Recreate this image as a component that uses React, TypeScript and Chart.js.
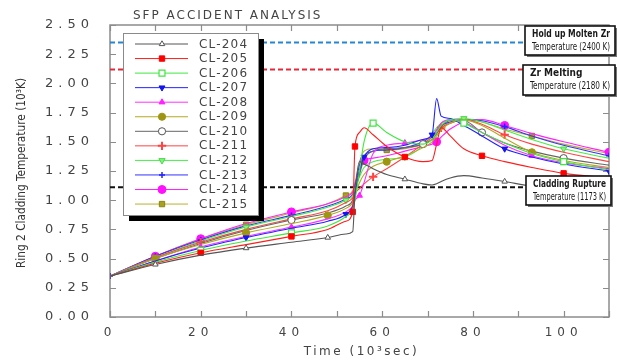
import React, { useEffect, useRef } from 'react';
import { Chart, registerables } from 'chart.js';
import { drawPoint } from 'chart.js/helpers';

Chart.register(...registerables);

// ---------------- DATA ----------------
const TIME = [0, 10, 20, 30, 40, 48, 52, 53.5, 54, 55, 56, 58, 61, 65, 69, 71, 72, 73, 75, 78, 82, 87, 93, 100, 110];

const SERIES_NAMES = ['CL-204', 'CL-205', 'CL-206', 'CL-207', 'CL-208', 'CL-209', 'CL-210', 'CL-211', 'CL-212', 'CL-213', 'CL-214', 'CL-215'];

const CL204 = [0.35, 0.45, 0.53, 0.59, 0.64, 0.68, 0.71, 0.73, 1.05, 1.33, 1.31, 1.27, 1.22, 1.18, 1.14, 1.13, 1.14, 1.16, 1.19, 1.21, 1.19, 1.16, 1.12, 1.10, 1.08];
const CL205 = [0.35, 0.46, 0.55, 0.62, 0.69, 0.75, 0.82, 0.90, 1.46, 1.58, 1.62, 1.56, 1.46, 1.37, 1.33, 1.34, 1.48, 1.62, 1.55, 1.44, 1.38, 1.33, 1.28, 1.23, 1.19];
const CL206 = [0.35, 0.47, 0.57, 0.65, 0.72, 0.78, 0.86, 0.92, 1.00, 1.25, 1.50, 1.66, 1.58, 1.50, 1.48, 1.52, 1.58, 1.64, 1.69, 1.66, 1.58, 1.49, 1.40, 1.33, 1.26];
const CL207 = [0.35, 0.48, 0.59, 0.68, 0.76, 0.82, 0.88, 0.95, 1.05, 1.25, 1.37, 1.44, 1.45, 1.47, 1.52, 1.56, 1.87, 1.72, 1.70, 1.64, 1.55, 1.44, 1.37, 1.31, 1.25];
const CL208 = [0.35, 0.48, 0.60, 0.69, 0.77, 0.84, 0.90, 0.95, 1.00, 1.04, 1.15, 1.40, 1.47, 1.49, 1.52, 1.55, 1.60, 1.66, 1.69, 1.67, 1.58, 1.47, 1.38, 1.32, 1.27];
const CL209 = [0.35, 0.50, 0.62, 0.72, 0.80, 0.87, 0.93, 0.98, 1.05, 1.15, 1.22, 1.29, 1.33, 1.38, 1.45, 1.50, 1.55, 1.60, 1.66, 1.69, 1.64, 1.53, 1.41, 1.34, 1.28];
const CL210 = [0.35, 0.50, 0.63, 0.74, 0.83, 0.89, 0.95, 1.00, 1.08, 1.22, 1.35, 1.42, 1.44, 1.45, 1.48, 1.52, 1.57, 1.63, 1.68, 1.68, 1.58, 1.49, 1.42, 1.36, 1.30];
const CL211 = [0.35, 0.51, 0.64, 0.75, 0.84, 0.91, 0.98, 1.02, 1.06, 1.10, 1.14, 1.20, 1.27, 1.37, 1.48, 1.54, 1.58, 1.62, 1.66, 1.69, 1.65, 1.56, 1.48, 1.41, 1.33];
const CL212 = [0.35, 0.51, 0.65, 0.77, 0.86, 0.94, 1.00, 1.04, 1.10, 1.20, 1.28, 1.33, 1.35, 1.37, 1.47, 1.57, 1.62, 1.66, 1.69, 1.70, 1.67, 1.60, 1.52, 1.44, 1.36];
const CL213 = [0.35, 0.52, 0.66, 0.78, 0.87, 0.95, 1.01, 1.05, 1.12, 1.30, 1.38, 1.42, 1.43, 1.45, 1.50, 1.55, 1.60, 1.64, 1.67, 1.69, 1.68, 1.63, 1.55, 1.47, 1.38];
const CL214 = [0.35, 0.52, 0.67, 0.80, 0.90, 0.97, 1.03, 1.07, 1.14, 1.25, 1.34, 1.36, 1.38, 1.42, 1.46, 1.48, 1.50, 1.54, 1.61, 1.67, 1.69, 1.64, 1.57, 1.50, 1.41];
const CL215 = [0.35, 0.52, 0.67, 0.79, 0.89, 0.97, 1.04, 1.08, 1.15, 1.32, 1.42, 1.44, 1.43, 1.44, 1.48, 1.52, 1.57, 1.62, 1.66, 1.69, 1.67, 1.61, 1.55, 1.48, 1.40];

// times at which a series shows its marker symbol
const MARKS204 = [10, 30, 48, 65, 87];
const MARKS205 = [20, 40, 53.5, 54, 65, 82, 100];
const MARKS206 = [20, 40, 58, 78, 100];
const MARKS207 = [30, 52, 56, 71, 87, 110];
const MARKS208 = [20, 40, 55, 65, 93];
const MARKS209 = [10, 30, 48, 61, 93];
const MARKS210 = [10, 40, 69, 82, 100];
const MARKS211 = [20, 40, 58, 73, 87];
const MARKS212 = [10, 30, 52, 65, 78, 100];
const MARKS213 = [0, 10, 20, 40, 87, 110];
const MARKS214 = [10, 20, 40, 56, 72, 87, 110];
const MARKS215 = [10, 30, 52, 61, 93];

// reference temperature levels (10^3 K as drawn) and the time where each dashed line stops
const REF_LEVELS = [2.35, 2.12, 1.11];
const REF_END = [91.5, 91.0, 91.7];
const REF_LABELS = [
  ['Hold up Molten Zr', 'Temperature (2400 K)'],
  ['Zr Melting', 'Temperature (2180 K)'],
  ['Cladding Rupture', 'Temperature (1173 K)'],
];

const X_MIN = 0;
const X_MAX = 110;
const Y_MIN = 0;
const Y_MAX = 2.5;

const TITLE = 'SFP ACCIDENT ANALYSIS';
const X_TITLE = 'Time (10³sec)';
const Y_TITLE = 'Ring 2 Cladding Temperature (10³K)';

// ---------------- STYLES ----------------
const VALUES = [CL204, CL205, CL206, CL207, CL208, CL209, CL210, CL211, CL212, CL213, CL214, CL215];
const MARKS = [MARKS204, MARKS205, MARKS206, MARKS207, MARKS208, MARKS209, MARKS210, MARKS211, MARKS212, MARKS213, MARKS214, MARKS215];

const STYLES = [
  { line: '#555555', style: 'triangle', rot: 0, fill: '#ffffff', border: '#555555', r: 3.2, bw: 1 },
  { line: '#ff1e1e', style: 'rect', rot: 0, fill: '#ff0000', border: '#ff0000', r: 3.8, bw: 1 },
  { line: '#3ee83e', style: 'rect', rot: 0, fill: '#ffffff', border: '#3ee83e', r: 4.2, bw: 1.2 },
  { line: '#2222ff', style: 'triangle', rot: 180, fill: '#1515ee', border: '#1515ee', r: 3.4, bw: 1 },
  { line: '#ff30ff', style: 'triangle', rot: 0, fill: '#ff22ff', border: '#ff22ff', r: 3.4, bw: 1 },
  { line: '#b3aa22', style: 'circle', rot: 0, fill: '#9e9612', border: '#9e9612', r: 3.6, bw: 1 },
  { line: '#666666', style: 'circle', rot: 0, fill: '#ffffff', border: '#555555', r: 3.6, bw: 1 },
  { line: '#ff4444', style: 'cross', rot: 0, fill: '#ff4444', border: '#ff4444', r: 4.2, bw: 2 },
  { line: '#44ee44', style: 'triangle', rot: 180, fill: '#88f088', border: '#44dd44', r: 3.6, bw: 1 },
  { line: '#3333ff', style: 'cross', rot: 0, fill: '#2222ff', border: '#2222ff', r: 3, bw: 1.5 },
  { line: '#ff22ff', style: 'circle', rot: 0, fill: '#ff10ff', border: '#ff10ff', r: 4, bw: 1 },
  { line: '#b8b030', style: 'rect', rot: 0, fill: '#a8a020', border: '#8a8410', r: 3.8, bw: 1 },
];

const REF_COLORS = ['#2585d6', '#e8283a', '#111111'];
const AXIS_FONT = '"DejaVu Sans", sans-serif';
const TEXT_COLOR = '#444444';

// frame + inward ticks, drawn under the data
const framePlugin = {
  id: 'frame',
  beforeDatasetsDraw(chart: any) {
    const { ctx, chartArea: a, scales } = chart;
    ctx.save();
    ctx.letterSpacing = '0px';
    ctx.strokeStyle = '#8c8c8c';
    ctx.lineWidth = 1.5;
    ctx.strokeRect(a.left, a.top, a.right - a.left, a.bottom - a.top);
    ctx.lineWidth = 1.2;
    ctx.beginPath();
    for (const t of scales.y.ticks) {
      const py = Math.round(scales.y.getPixelForValue(t.value)) + 0.5;
      ctx.moveTo(a.left, py); ctx.lineTo(a.left + 6, py);
      ctx.moveTo(a.right, py); ctx.lineTo(a.right - 6, py);
    }
    for (const t of scales.x.ticks) {
      const px = Math.round(scales.x.getPixelForValue(t.value)) + 0.5;
      ctx.moveTo(px, a.bottom); ctx.lineTo(px, a.bottom - 6);
      ctx.moveTo(px, a.top); ctx.lineTo(px, a.top + 6);
    }
    ctx.stroke();
    ctx.restore();
  },
  beforeDraw(chart: any) {
    chart.ctx.letterSpacing = '5px';
  },
};

// titles, legend, annotation boxes, drawn on top
const overlayPlugin = {
  id: 'overlay',
  afterDatasetsDraw(chart: any) {
    const { ctx, chartArea: a, scales } = chart;
    ctx.save();

    // chart title
    ctx.letterSpacing = '2px';
    ctx.fillStyle = TEXT_COLOR;
    ctx.font = `12px ${AXIS_FONT}`;
    ctx.textAlign = 'left';
    ctx.textBaseline = 'middle';
    ctx.fillText(TITLE, 133, 16);

    // x title
    ctx.letterSpacing = '2.5px';
    ctx.textAlign = 'center';
    ctx.font = `12px ${AXIS_FONT}`;
    ctx.fillText(X_TITLE, (a.left + a.right) / 2 + 2, 352);

    // y title
    ctx.letterSpacing = '0px';
    ctx.save();
    ctx.translate(22, 173);
    ctx.rotate(-Math.PI / 2);
    ctx.font = `13px "Liberation Sans Narrow", "DejaVu Sans Condensed", "Roboto Condensed", sans-serif`;
    ctx.fillStyle = '#333';
    ctx.textAlign = 'center';
    ctx.fillText(Y_TITLE, 0, 0, 190);
    ctx.restore();

    // legend box
    const L = 123, T = 33, R = 258, B = 215;
    ctx.fillStyle = '#000';
    ctx.fillRect(L + 6, T + 6, R - L, B - T);
    ctx.fillStyle = '#fff';
    ctx.fillRect(L, T, R - L, B - T);
    ctx.strokeStyle = '#8a8a8a';
    ctx.lineWidth = 1;
    ctx.strokeRect(L + 0.5, T + 0.5, R - L, B - T);
    chart.data.datasets.forEach((ds: any, i: number) => {
      if (i >= SERIES_NAMES.length) return;
      const st = STYLES[i];
      const y = 44 + i * 14.55;
      ctx.strokeStyle = st.line;
      ctx.lineWidth = 1;
      ctx.beginPath();
      ctx.moveTo(135, y); ctx.lineTo(188, y);
      ctx.stroke();
      ctx.fillStyle = st.fill;
      ctx.strokeStyle = st.border;
      ctx.lineWidth = st.bw;
      drawPoint(ctx, { pointStyle: st.style, rotation: st.rot, radius: st.r, borderWidth: st.bw }, 162, y);
      ctx.fillStyle = TEXT_COLOR;
      ctx.font = `12px ${AXIS_FONT}`;
      ctx.letterSpacing = '1.2px';
      ctx.textAlign = 'left';
      ctx.textBaseline = 'middle';
      ctx.fillText(ds.label, 199, y + 0.5);
      ctx.letterSpacing = '0px';
    });

    // annotation boxes
    const boxes = [
      { top: 26, bottom: 55, right: 615 },
      { top: 65, bottom: 95, right: 615 },
      { top: 176, bottom: 205, right: 611 },
    ];
    boxes.forEach((b, i) => {
      const left = Math.round(scales.x.getPixelForValue(REF_END[i]));
      ctx.fillStyle = '#777';
      ctx.fillRect(left + 2, b.top + 2, b.right - left, b.bottom - b.top);
      ctx.fillStyle = '#fff';
      ctx.fillRect(left, b.top, b.right - left, b.bottom - b.top);
      ctx.strokeStyle = '#111';
      ctx.lineWidth = 1.6;
      ctx.strokeRect(left, b.top, b.right - left, b.bottom - b.top);
      ctx.fillStyle = '#1a1a1a';
      ctx.textAlign = 'left';
      ctx.textBaseline = 'middle';
      ctx.font = `bold 10px "Liberation Sans Narrow", "DejaVu Sans Condensed", "Liberation Sans", sans-serif`;
      const mid = (b.top + b.bottom) / 2;
      ctx.fillText(REF_LABELS[i][0], left + 7, mid - 6.5, b.right - left - 12);
      ctx.font = `10px "Liberation Sans Narrow", "DejaVu Sans Condensed", "Liberation Sans", sans-serif`;
      ctx.fillText(REF_LABELS[i][1], left + 7, mid + 6.5, b.right - left - 12);
    });

    ctx.restore();
  },
};

export default function App() {
  const canvasRef = useRef<HTMLCanvasElement | null>(null);

  useEffect(() => {
    document.body.style.margin = '0';
    const canvas = canvasRef.current;
    if (!canvas) return;

    const seriesSets = SERIES_NAMES.map((name, i) => {
      const st = STYLES[i];
      const marks = MARKS[i];
      return {
        label: name,
        data: TIME.map((t, k) => ({ x: t, y: VALUES[i][k] })),
        borderColor: st.line,
        borderWidth: 1.1,
        cubicInterpolationMode: 'monotone',
        pointStyle: st.style,
        pointRotation: st.rot,
        pointBackgroundColor: st.fill,
        pointBorderColor: st.border,
        pointBorderWidth: st.bw,
        pointRadius: (c: any) => (c.raw && marks.includes(c.raw.x) ? st.r : 0),
        pointHoverRadius: 0,
        fill: false,
      };
    });

    const refSets = REF_LEVELS.map((lv, i) => ({
      label: 'ref' + i,
      data: [{ x: X_MIN, y: lv }, { x: REF_END[i], y: lv }],
      borderColor: REF_COLORS[i],
      borderWidth: 2,
      borderDash: [5, 3],
      pointRadius: 0,
      tension: 0,
      fill: false,
    }));

    const chart = new Chart(canvas, {
      type: 'line',
      data: { datasets: [...seriesSets, ...refSets] as any },
      options: {
        responsive: false,
        animation: false,
        devicePixelRatio: 1,
        layout: { padding: { top: 25, right: 8, left: 0, bottom: 0 } },
        plugins: {
          legend: { display: false },
          tooltip: { enabled: false },
          title: { display: false },
        },
        scales: {
          x: {
            type: 'linear',
            min: X_MIN,
            max: X_MAX,
            grid: { display: false },
            border: { display: false },
            ticks: {
              stepSize: 10,
              autoSkip: false,
              maxRotation: 0,
              padding: 1,
              color: TEXT_COLOR,
              font: { family: AXIS_FONT, size: 12 },
              callback: (v: any) => (Number(v) % 20 === 0 ? String(v) : ''),
            },
            afterFit: (s: any) => { s.height = 43; },
          },
          y: {
            type: 'linear',
            min: Y_MIN,
            max: Y_MAX,
            grid: { display: false },
            border: { display: false },
            ticks: {
              stepSize: 0.25,
              autoSkip: false,
              padding: 8,
              color: TEXT_COLOR,
              font: { family: AXIS_FONT, size: 13 },
              callback: (v: any) => Number(v).toFixed(2),
            },
            afterFit: (s: any) => { s.width = 110; },
          },
        },
      },
      plugins: [framePlugin, overlayPlugin],
    });

    return () => chart.destroy();
  }, []);

  return (
    <div style={{ width: 617, height: 360, background: '#fff' }}>
      <canvas ref={canvasRef} width={617} height={360} />
    </div>
  );
}
